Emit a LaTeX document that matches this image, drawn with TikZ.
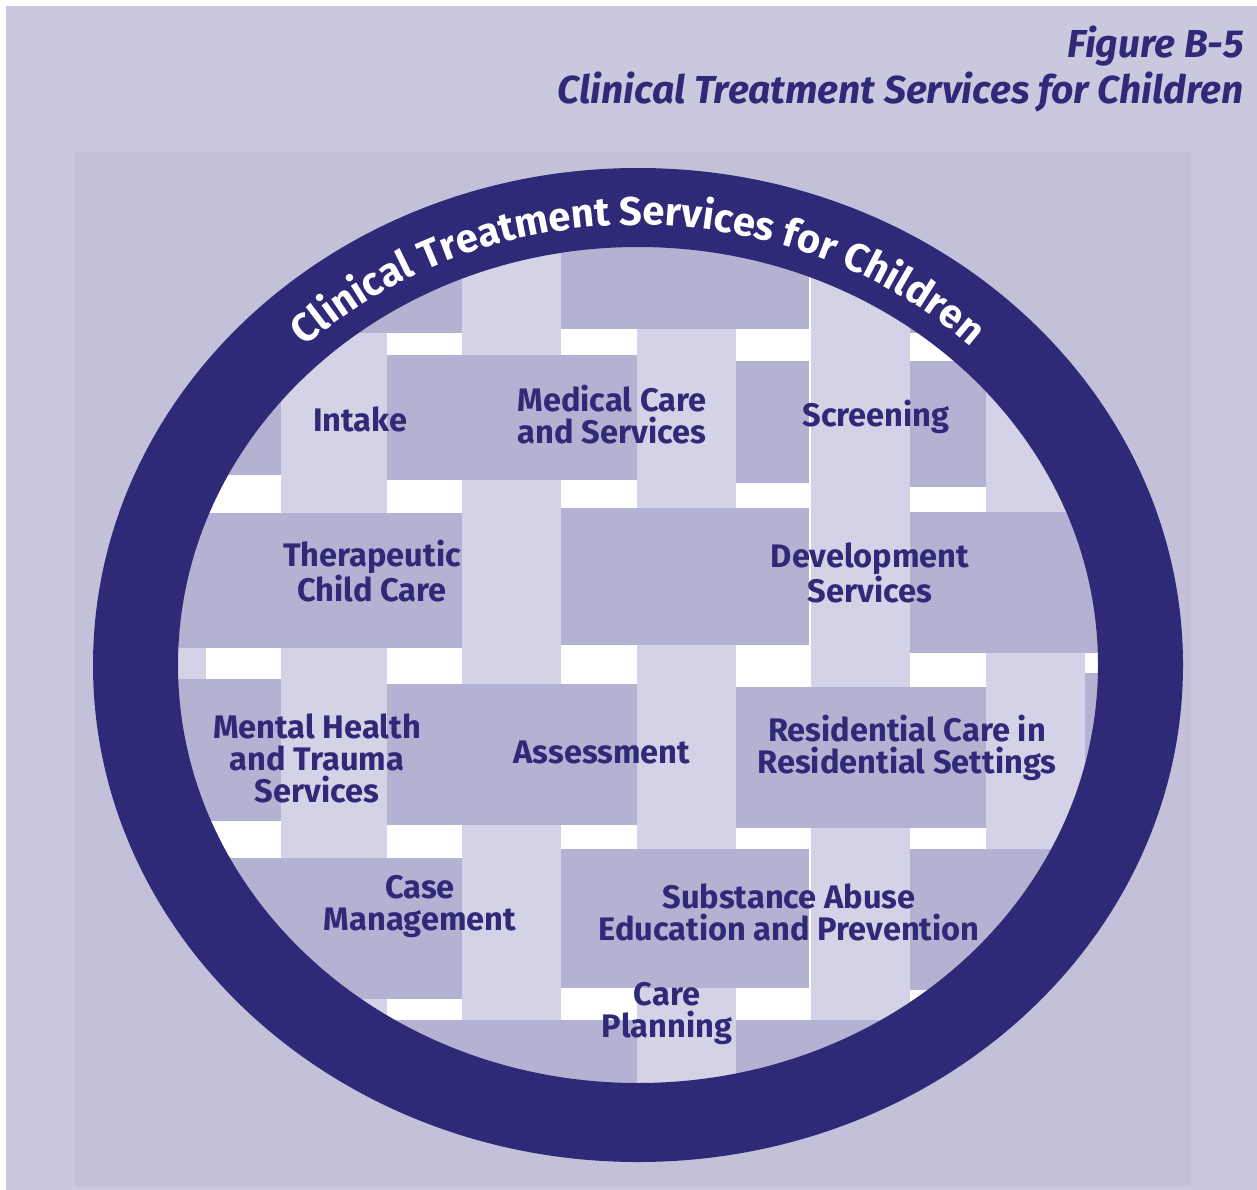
\documentclass[tikz,border=0pt]{standalone}
\usepackage{fontspec}
\setmainfont{Fira Sans}
\usetikzlibrary{decorations.text}
\definecolor{titleblue}{HTML}{2E2A78}
\definecolor{outerbg}{HTML}{CAC8DF}
\definecolor{innerbg}{HTML}{C3C1DA}
\definecolor{lightstrip}{HTML}{D3D2E6}
\definecolor{darkband}{HTML}{B4B2D2}
\newcommand{\svcfont}{\fontsize{32.6}{32}\selectfont\bfseries}
\newcommand{\ringfont}{\fontsize{40}{40}\selectfont\bfseries}
\newcommand{\headfont}{\fontsize{39}{44}\selectfont\bfseries\itshape}

\begin{document}
\begin{tikzpicture}[x=1pt,y=-1pt,
    vstrip/.style={fill=lightstrip},
    hband/.style={fill=darkband},
    svc/.style={text=titleblue, font=\svcfont, align=center, inner sep=0pt}]
			\useasboundingbox (0,0) rectangle (1257,1190);
			\fill[white] (0,0) rectangle (1257,1190);
			\fill[outerbg] (6,6) rectangle (1257,1190);
			\fill[innerbg] (75,152) rectangle (1191,1186);
			\node[anchor=base east, text=titleblue, font=\headfont] (fig) at (1247,58) {Figure B-5};
			\node[anchor=base east, text=titleblue, font=\headfont] (figtitle) at (1247,104) {Clinical Treatment Services for Children};
			% woven strips inside the ring
			\begin{scope}
				\clip (638,665) ellipse [x radius=462, y radius=420];
				\fill[white] (150,200) rectangle (1150,1120);
				\fill[vstrip] (106,150) rectangle (206,1150);
				\fill[vstrip] (281,150) rectangle (387,1150);
				\fill[vstrip] (462,150) rectangle (561,1150);
				\fill[vstrip] (637,150) rectangle (736,1150);
				\fill[vstrip] (811,150) rectangle (910,1150);
				\fill[vstrip] (986,150) rectangle (1085,1150);
				\fill[hband] (100,150) rectangle (462,333);
				\fill[hband] (561,150) rectangle (809,329);
				\fill[hband] (910,150) rectangle (1200,333);
				\fill[hband] (100,355) rectangle (281,475);
				\fill[hband] (387,355) rectangle (637,480);
				\fill[hband] (736,361) rectangle (809,483);
				\fill[hband] (910,361) rectangle (986,487);
				\fill[hband] (100,513) rectangle (462,648);
				\fill[hband] (561,508) rectangle (809,645);
				\fill[hband] (910,512) rectangle (1200,653);
				\fill[hband] (100,679) rectangle (281,821);
				\fill[hband] (387,684) rectangle (637,825);
				\fill[hband] (736,687) rectangle (986,828);
				\fill[hband] (1085,673) rectangle (1200,830);
				\fill[hband] (100,858) rectangle (462,999);
				\fill[hband] (561,849) rectangle (809,988);
				\fill[hband] (910,849) rectangle (1200,990);
				\fill[hband] (100,1020) rectangle (637,1150);
				\fill[hband] (736,1020) rectangle (1200,1150);
			\end{scope}
			\fill[titleblue, even odd rule] (638,665) ellipse [x radius=545, y radius=497]
				(638,665) ellipse [x radius=460, y radius=418];
			\path[decorate, decoration={text along path, text align=center, text color=white,
				text={|\ringfont|Clinical Treatment Services for Children}}]
				(638,665) ++(190:482 and 440) arc [start angle=190, end angle=350, x radius=482, y radius=440];
			\node[svc] (intake) at (360,419) {Intake};
			\node[svc] (medical) at (612,415) {Medical Care\\and Services};
			\node[svc] (screening) at (876,417) {Screening};
			\node[svc] (therapeutic) at (372,571) {Therapeutic\\Child Care};
			\node[svc] (development) at (870,573) {Development\\Services};
			\node[svc] (mental) at (317,758) {Mental Health\\and Trauma\\Services};
			\node[svc] (assessment) at (602,752) {Assessment};
			\node[svc] (residential) at (907,748) {Residential Care in\\Residential Settings};
			\node[svc] (casemgmt) at (420,907) {Case\\Management};
			\node[svc] (substance) at (789,912) {Substance Abuse\\Education and Prevention};
			\node[svc] (careplan) at (667,1014) {Care\\Planning};
		\end{tikzpicture}
\end{document}
